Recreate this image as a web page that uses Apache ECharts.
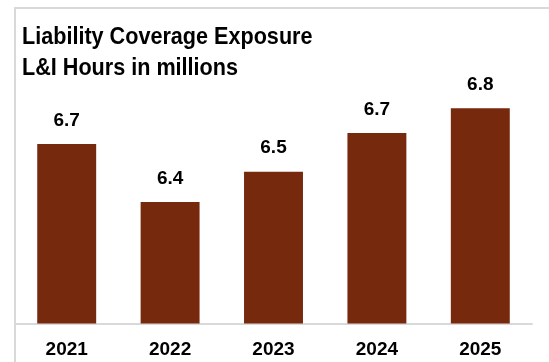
<!DOCTYPE html>
<html>
<head>
<meta charset="utf-8">
<title>Liability Coverage Exposure</title>
<script src="https://cdn.jsdelivr.net/npm/echarts@6/dist/echarts.min.js"></script>
<style>
  html, body { margin: 0; padding: 0; background: #fff; }
  #chart { width: 549px; height: 362px; }
</style>
</head>
<body>
<div id="chart"></div>
<script>
// Yearly L&I hours (millions) for liability coverage exposure
const years = ['2021', '2022', '2023', '2024', '2025'];
const hours = [6.65, 6.44, 6.55, 6.69, 6.78];
const titleLines = ['Liability Coverage Exposure', 'L&I Hours in millions'];

const chart = echarts.init(document.getElementById('chart'), null, { renderer: 'canvas' });

chart.setOption({
  animation: false,
  backgroundColor: '#ffffff',
  graphic: [
    {
      // chart-area frame (top and left edges visible)
      type: 'rect',
      silent: true,
      z: -1,
      shape: { x: 15, y: 8, width: 700, height: 500 },
      style: { fill: 'none', stroke: '#d9d9d9', lineWidth: 2 }
    },
    {
      // two-line heading, condensed horizontally
      type: 'text',
      silent: true,
      x: 22,
      y: 22,
      scaleX: 0.9,
      style: {
        text: titleLines.join('\n'),
        font: 'bold 24px "Liberation Sans", Arial, sans-serif',
        lineHeight: 31,
        fill: '#000',
        verticalAlign: 'top',
        align: 'left'
      }
    }
  ],
  grid: {
    left: 15,
    right: 17,
    top: 47.5,
    bottom: 38.5,
    outerBoundsMode: 'none'
  },
  xAxis: {
    type: 'category',
    data: years,
    axisLine: { show: true, lineStyle: { color: '#d9d9d9', width: 2 } },
    axisTick: { show: false },
    axisLabel: {
      margin: 17,
      fontFamily: '"Liberation Sans", Arial, sans-serif',
      fontWeight: 'bold',
      fontSize: 19,
      color: '#000'
    }
  },
  yAxis: {
    type: 'value',
    min: 6,
    max: 7,
    show: false,
    splitLine: { show: false }
  },
  series: [{
    type: 'bar',
    data: hours,
    barWidth: '57%',
    itemStyle: { color: '#76290D' },
    label: {
      show: true,
      position: 'top',
      distance: 14,
      formatter: p => p.value.toFixed(1),
      fontFamily: '"Liberation Sans", Arial, sans-serif',
      fontWeight: 'bold',
      fontSize: 19,
      color: '#000'
    }
  }]
});
</script>
</body>
</html>
